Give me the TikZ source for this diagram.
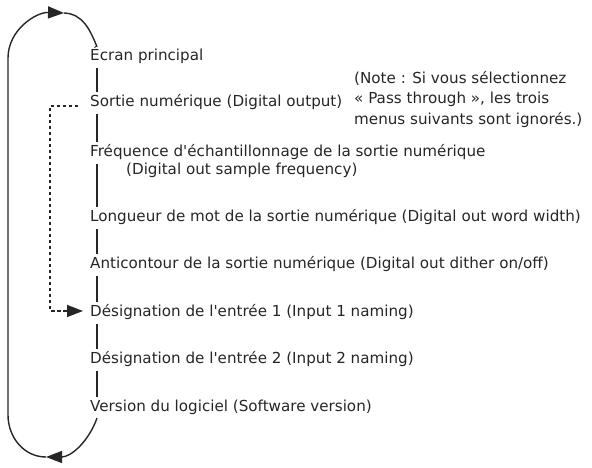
\documentclass[tikz,border=0pt]{standalone}
\usepackage{fontspec}
\setmainfont{DejaVu Sans}
\newfontfamily\menuface{DejaVu Sans}
\newcommand{\menufont}{\menuface\fontsize{15.2}{20.5}\selectfont}
\usepackage{tikz}
\usetikzlibrary{arrows.meta, positioning}
\definecolor{ink}{HTML}{262626}
\tikzset{>={Triangle[length=16bp,width=12bp]},
    x=1bp, y=1bp,
    menu/.style={anchor=base west,inner sep=1bp,text height=11bp,text depth=3bp,
        font=\menufont,text=ink},
    remark/.style={anchor=north west,inner sep=0pt,align=left,font=\menufont,text=ink},
    link/.style={draw=ink,line width=1.3bp,shorten <=3bp,shorten >=3bp},
    loopline/.style={draw=ink,line width=1.4bp},
    skip/.style={draw=ink,line width=1.4bp,dash pattern=on 3.5bp off 2.5bp}}

\begin{document}
\begin{tikzpicture}
\useasboundingbox (0,0) rectangle (592,468);
% menu entries
\node[menu] (ecran)   at (89,407) {Écran principal};
\node[menu] (sortie)  at (89,361) {Sortie numérique (Digital output)};
\node[menu] (freq)    at (89,311) {Fréquence d'échantillonnage de la sortie numérique};
\node[menu] (freqtwo) at (125,293) {(Digital out sample frequency)};
\node[menu] (long)    at (89,246) {Longueur de mot de la sortie numérique (Digital out word width)};
\node[menu] (anti)    at (89,199) {Anticontour de la sortie numérique (Digital out dither on/off)};
\node[menu] (desone)  at (89,151) {Désignation de l'entrée 1 (Input 1 naming)};
\node[menu] (destwo)  at (89,104) {Désignation de l'entrée 2 (Input 2 naming)};
\node[menu] (ver)     at (89,56)  {Version du logiciel (Software version)};
\node[remark] (note)  at (354,397) {(Note : Si vous sélectionnez\\« Pass through », les trois\\menus suivants sont ignorés.)};
% loop back to the top
\coordinate (loopbot) at (46,11);
\coordinate (loopleft) at (8,53);
\coordinate (loopup) at (8,410);
\coordinate (looptop) at (64,455);
\path[link]
    ([xshift=8bp]ecran.south west)  edge ([xshift=8bp]sortie.north west)
    ([xshift=8bp]sortie.south west) edge ([xshift=8bp]freq.north west)
    ([xshift=8bp]freq.south west)   edge ([xshift=8bp]long.north west)
    ([xshift=8bp]long.south west)   edge ([xshift=8bp]anti.north west)
    ([xshift=8bp]anti.south west)   edge ([xshift=8bp]desone.north west)
    ([xshift=8bp]desone.south west) edge ([xshift=8bp]destwo.north west)
    ([xshift=8bp]destwo.south west) edge ([xshift=8bp]ver.north west);
\draw[loopline,->] ([xshift=8bp,yshift=-2bp]ver.south west) to[out=-110,in=0] (loopbot);
\draw[loopline,->] (loopbot) to[out=180,in=-90] (loopleft) -- (loopup) to[out=90,in=178] (looptop);
\draw[loopline] (looptop) to[out=-2,in=112] ([xshift=8bp,yshift=2bp]ecran.north west);
% skip over the three digital out menus
\draw[skip,->] ([xshift=-11bp,yshift=1bp]sortie.base west) -- ++(-28bp,0) |- ([xshift=-6bp,yshift=2bp]desone.west);
\end{tikzpicture}
\end{document}
